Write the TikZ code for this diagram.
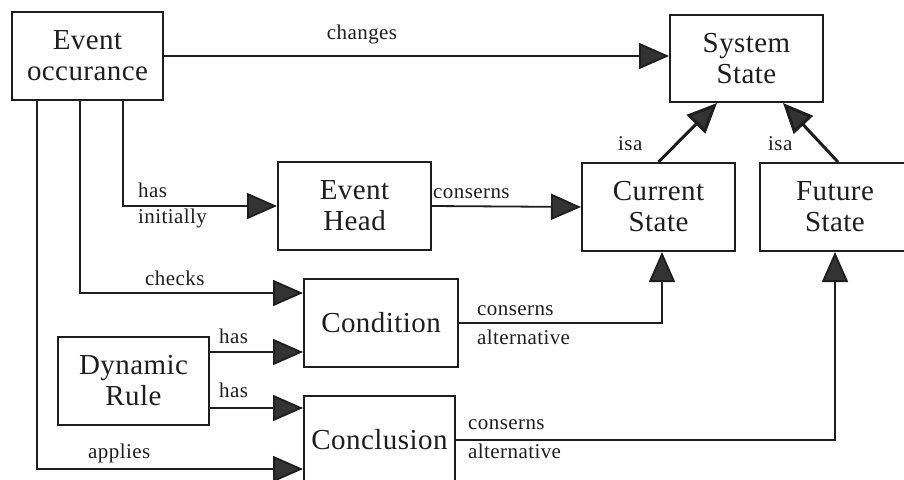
\documentclass[tikz,border=0pt]{standalone}
\usepackage{fontspec}
\setmainfont{Liberation Serif}
\newfontfamily\boxfont[LetterSpace=1.5]{Liberation Serif}
\newfontfamily\lblfont[LetterSpace=2]{Liberation Serif}
\usetikzlibrary{arrows.meta}
\definecolor{ink}{HTML}{1E1E1E}
\definecolor{headfill}{HTML}{333333}
\begin{document}
\begin{tikzpicture}[x=1pt,y=-1pt,
  entity/.style={draw=ink,line width=2pt,fill=white,align=center,
    minimum width=151pt,minimum height=88pt,inner sep=0pt,
    font=\boxfont\fontsize{29}{31}\selectfont,text=ink},
  link/.style={draw=ink,line width=1.8pt,
    -{Triangle[length=30pt,width=26pt,fill=headfill]}},
  isalink/.style={link,line width=3pt},
  lbl/.style={font=\lblfont\fontsize{21}{22}\selectfont,text=ink,inner sep=0pt}]
\useasboundingbox (0,0) rectangle (904,479);
\clip (0,0) rectangle (904,479);
\fill[white] (0,0) rectangle (904,479);

% entities
\node[entity] (eo) at (87.5,56) {Event\\occurance};
\node[entity,minimum width=153pt,minimum height=87pt] (ss) at (746.5,58.5) {System\\State};
\node[entity,minimum width=153pt] (eh) at (354.5,206) {Event\\Head};
\node[entity,minimum width=153pt] (cs) at (658.5,207) {Current\\State};
\node[entity,minimum width=150pt] (fs) at (835,207) {Future\\State};
\node[entity,minimum width=154pt] (cond) at (381,323) {Condition};
\node[entity] (dr) at (133.5,381) {Dynamic\\Rule};
\node[entity] (concl) at (379.5,440) {Conclusion};

% connectors
\draw[link] (eo.east) -- (eo.east -| ss.west);
\draw[link] ([xshift=35.5pt]eo.south) |- (eh.west);
\draw[link] ([xshift=-7.5pt]eo.south) |- ([yshift=30pt]cond.west);
\draw[link] ([xshift=-50.5pt]eo.south) |- ([yshift=-29pt]concl.west);
\draw[link] ([yshift=29pt]dr.east) -- ([yshift=29pt]dr.east -| cond.west);
\draw[link] ([yshift=-27pt]dr.east) -- ([yshift=-27pt]dr.east -| concl.west);
\draw[link] (eh.east) -- (cs.west);
\draw[isalink] (cs.north) -- ([xshift=-29.5pt]ss.south);
\draw[isalink] ([xshift=3pt]fs.north) -- ([xshift=36.5pt]ss.south);
\draw[link] (cond.east) -| ([xshift=3.5pt]cs.south);
\draw[link] (concl.east) -| (fs.south);

% connector labels
\node[lbl,anchor=base] (lchanges) at (362,39) {changes};
\node[lbl,anchor=base west] (lhas1) at (138,197) {has};
\node[lbl,anchor=base west] (linit) at (138,223) {initially};
\node[lbl,anchor=base west] (lcons1) at (433,198) {conserns};
\node[lbl,anchor=base west] (lisa1) at (618,150) {isa};
\node[lbl,anchor=base west] (lisa2) at (768,150) {isa};
\node[lbl,anchor=base west] (lchecks) at (145,285) {checks};
\node[lbl,anchor=base west] (lhas2) at (219,343) {has};
\node[lbl,anchor=base west] (lhas3) at (219,397) {has};
\node[lbl,anchor=base west] (lapplies) at (88,458) {applies};
\node[lbl,anchor=base west] (lcons2) at (477,315) {conserns};
\node[lbl,anchor=base west] (lalt2) at (477,344) {alternative};
\node[lbl,anchor=base west] (lcons3) at (468,429) {conserns};
\node[lbl,anchor=base west] (lalt3) at (468,458) {alternative};
\end{tikzpicture}
\end{document}
